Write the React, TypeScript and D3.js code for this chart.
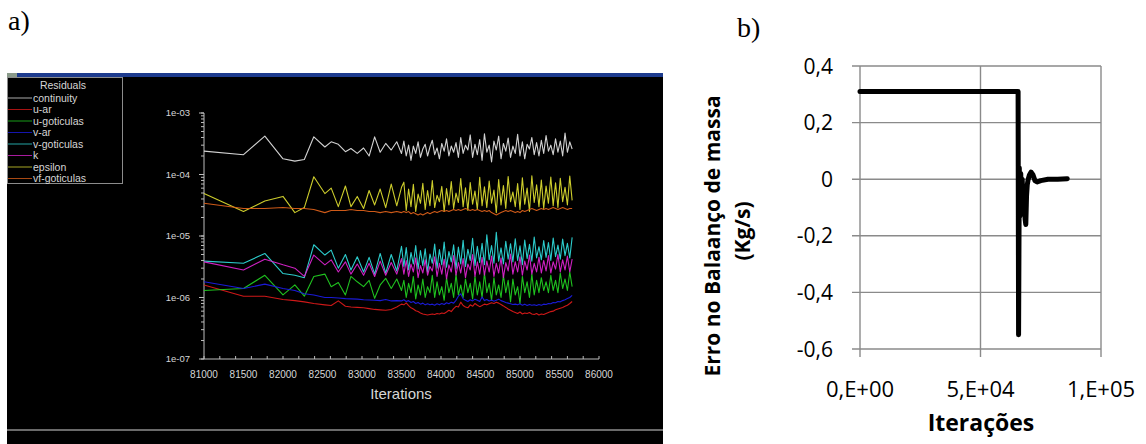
import React from "react";
import * as d3 from "d3";

// ---------- Panel a) : solver residuals ----------
const iterA = [
  81000, 81500, 81770, 82000, 82150, 82270, 82390, 82530, 82610, 82700, 82790, 82860,
  82940, 83020, 83090, 83160, 83230, 83300, 83370, 83440, 83500,
  83530, 83560, 83590, 83620, 83650, 83680, 83710, 83740, 83770, 83800, 83830, 83860,
  83890, 83920, 83950, 83980, 84010, 84040, 84070, 84100, 84130, 84160, 84190, 84220,
  84250, 84280, 84310, 84340, 84370, 84400, 84430, 84460, 84490, 84520, 84550, 84580,
  84610, 84640, 84670, 84700, 84730, 84760, 84790, 84820, 84850, 84880, 84910, 84940,
  84970, 85000, 85030, 85060, 85090, 85120, 85150, 85180, 85210, 85240, 85270, 85300,
  85330, 85360, 85390, 85420, 85450, 85480, 85510, 85540, 85570, 85600, 85630, 85660,
];

// values in units of 1e-4
const continuity = [
  2.4, 2.1, 4.2, 1.8, 1.65, 1.75, 4.1, 2.8, 3.4, 3.1, 2.35, 2.65, 2.2, 2.7, 2.0, 4.1, 2.3, 3.2, 2.5, 3.4, 2.2,
  3.5, 2.0, 3.0, 1.7, 2.9, 2.2, 3.4, 1.9, 2.6, 3.1, 2.0, 2.8,
  3.6, 2.1, 2.7, 1.8, 3.2, 2.4, 3.8, 2.0, 2.9, 2.3, 3.3, 1.9,
  4.0, 2.2, 3.0, 2.5, 4.4, 1.9, 3.1, 2.1, 3.7, 1.7, 4.6, 2.3,
  3.0, 1.6, 3.5, 2.5, 4.2, 1.8, 3.2, 2.4, 3.9, 1.9, 2.9, 2.2,
  4.5, 2.0, 3.4, 1.8, 3.1, 2.6, 4.0, 2.1, 3.3, 2.0, 3.6, 2.2,
  4.3, 2.4, 3.0, 2.1, 3.8, 2.3, 3.5, 2.0, 4.7, 2.3, 3.4, 2.6,
];
// values in units of 1e-7
const uAr = [
  16, 10.5, 10.5, 9.3, 8.9, 8.5, 8.0, 7.6, 7.4, 8.8, 7.2, 7.0, 6.9, 6.8, 6.6, 6.4, 6.3, 6.2, 6.4, 7.0, 7.8,
  7.6, 8.2, 7.4, 6.8, 6.5, 6.1, 5.9, 5.6, 5.4, 5.3, 5.2, 5.3,
  5.4, 5.3, 5.5, 5.4, 5.6, 5.5, 5.8, 6.2, 5.9, 6.6, 7.2, 7.0,
  8.4, 7.4, 7.0, 6.8, 7.6, 7.2, 8.0, 7.5, 7.1, 7.4, 7.8, 7.6,
  7.9, 8.2, 8.0, 8.4, 8.1, 7.7, 7.3, 6.9, 6.5, 6.2, 5.9, 5.7,
  5.5, 5.8, 5.4, 5.6, 5.5, 5.7, 5.4, 5.3, 5.5, 5.2, 5.4, 5.3,
  5.5, 5.7, 5.9, 6.0, 6.3, 6.5, 6.7, 6.9, 7.2, 7.5, 8.0, 8.6,
];
// values in units of 1e-6
const uGoticulas = [
  1.3, 1.4, 2.3, 1.1, 1.6, 1.05, 2.2, 2.4, 1.5, 1.75, 1.1, 2.2, 1.8, 1.5, 1.9, 0.97, 1.6, 2.05, 1.4, 2.0, 1.3,
  1.9, 1.0, 1.7, 1.2, 2.2, 0.95, 1.6, 1.1, 2.0, 1.0, 1.5, 1.2,
  2.3, 1.0, 1.8, 1.1, 1.5, 0.9, 2.1, 1.2, 1.7, 1.0, 2.4, 1.1,
  1.6, 1.0, 2.0, 1.2, 1.7, 0.95, 2.2, 1.1, 1.8, 1.0, 2.5, 1.2,
  1.7, 0.9, 2.1, 1.1, 1.6, 1.0, 2.3, 1.2, 1.9, 0.85, 2.0, 1.1,
  1.5, 0.8, 2.2, 1.2, 1.8, 1.0, 2.4, 1.1, 1.9, 1.2, 2.1, 1.3,
  1.8, 1.2, 2.3, 1.3, 1.9, 1.2, 2.5, 1.4, 2.0, 1.3, 2.6, 1.5,
];
// values in units of 1e-7
const vAr = [
  18, 14, 16.5, 14, 13, 11.5, 11, 10, 10, 9.8, 9.6, 9.5, 9.4, 9.2, 9.1, 9.0, 8.9, 9.3, 8.8, 8.9, 8.8,
  9.2, 8.6, 8.9, 8.3, 8.6, 8.0, 8.3, 7.8, 8.1, 7.6, 7.9, 7.6,
  7.8, 7.5, 7.9, 7.6, 8.0, 7.7, 8.2, 7.9, 8.4, 8.1, 9.0, 10.5,
  11.5, 9.5, 9.0, 8.6, 9.2, 8.8, 9.4, 9.0, 8.6, 10.2, 8.9, 9.3,
  8.8, 9.1, 8.7, 9.0, 9.4, 8.9, 8.6, 8.3, 8.1, 7.9, 7.7, 7.8,
  7.6, 7.9, 7.5, 7.8, 7.4, 7.7, 7.5, 7.6, 7.4, 7.7, 7.5, 7.8,
  7.7, 8.0, 7.9, 8.3, 8.2, 8.6, 8.5, 8.9, 9.2, 9.6, 10.0, 10.8,
];
// values in units of 1e-6
const vGoticulas = [
  3.9, 3.6, 5.2, 2.45, 2.3, 2.1, 7.2, 4.9, 5.9, 3.0, 5.0, 2.8, 4.6, 2.6, 4.5, 2.4, 5.2, 2.5, 5.0, 2.7, 6.8,
  3.2, 6.5, 2.8, 5.4, 3.5, 7.0, 2.9, 5.8, 3.3, 6.2, 2.6, 5.1,
  3.6, 7.4, 3.0, 6.0, 3.4, 8.0, 3.1, 5.6, 3.8, 7.2, 2.9, 6.6,
  3.5, 8.5, 3.2, 6.1, 4.0, 9.2, 3.3, 6.8, 3.7, 7.6, 3.4, 10.5,
  4.1, 7.0, 3.6, 11.5, 3.9, 6.4, 3.5, 8.2, 4.2, 7.5, 3.8, 9.0,
  4.0, 6.9, 3.4, 8.6, 4.3, 7.3, 3.9, 9.6, 4.4, 6.7, 4.1, 8.4,
  4.5, 7.8, 4.0, 9.3, 4.6, 7.1, 4.2, 8.9, 4.8, 7.6, 4.4, 9.5,
];
// values in units of 1e-6
const kRes = [
  3.8, 2.8, 4.2, 3.4, 3.0, 2.2, 4.9, 3.4, 4.1, 2.6, 3.8, 2.4, 3.5, 2.3, 3.6, 2.2, 3.9, 2.3, 3.7, 2.4, 4.3,
  2.4, 4.0, 2.2, 3.5, 2.6, 4.4, 2.1, 3.3, 2.5, 4.1, 2.3, 3.2,
  2.7, 4.6, 2.2, 3.6, 2.4, 4.2, 2.0, 3.4, 2.6, 4.8, 2.3, 3.7,
  2.5, 4.3, 2.1, 3.5, 2.8, 5.0, 2.2, 3.8, 2.4, 4.5, 2.3, 3.9,
  2.6, 4.7, 2.2, 3.6, 2.5, 4.4, 2.1, 3.7, 2.7, 5.1, 2.4, 3.8,
  2.6, 4.6, 2.3, 3.9, 2.8, 4.9, 2.4, 3.6, 2.6, 4.5, 2.5, 4.0,
  2.7, 4.8, 2.5, 3.8, 2.9, 5.0, 2.6, 4.1, 2.8, 4.7, 2.6, 4.2,
];
// values in units of 1e-5
const epsilon = [
  4.9, 2.5, 3.7, 4.4, 2.4, 2.9, 9.2, 4.9, 6.0, 3.0, 6.5, 3.0, 4.4, 2.8, 5.5, 3.2, 5.8, 2.9, 7.0, 3.1, 6.2,
  7.5, 2.6, 5.8, 3.0, 6.9, 2.5, 4.8, 3.4, 7.2, 2.7, 5.5, 3.1,
  8.0, 2.9, 4.6, 3.6, 6.4, 2.5, 5.9, 3.2, 7.7, 2.8, 5.0, 3.5,
  8.6, 3.0, 6.1, 2.6, 7.4, 3.3, 5.4, 2.7, 9.0, 3.1, 6.3, 2.9,
  7.8, 3.4, 5.6, 2.4, 8.3, 3.2, 6.6, 2.8, 9.3, 3.6, 5.2, 3.0,
  7.1, 2.7, 8.8, 3.3, 6.0, 2.5, 9.5, 3.5, 6.8, 3.0, 8.1, 2.8,
  6.5, 3.4, 9.1, 3.1, 7.3, 2.9, 8.7, 3.6, 6.2, 3.2, 9.4, 3.8,
];
// values in units of 1e-5
const vfGoticulas = [
  3.4, 2.8, 2.8, 2.9, 2.8, 2.8, 2.7, 2.4, 2.6, 2.6, 2.6, 2.7, 2.6, 2.6, 2.5, 2.5, 2.4, 2.5, 2.4, 2.5, 2.4,
  2.5, 2.4, 2.5, 2.3, 2.4, 2.3, 2.2, 2.3, 2.2, 2.3, 2.4, 2.3,
  2.4, 2.5, 2.4, 2.5, 2.6, 2.5, 2.6, 2.5, 2.6, 2.7, 2.6, 2.7,
  2.6, 2.7, 2.8, 2.7, 2.6, 2.7, 2.6, 2.7, 2.6, 2.5, 2.6, 2.5,
  2.6, 2.4, 2.3, 2.2, 2.3, 2.4, 2.5, 2.6, 2.5, 2.6, 2.5, 2.4,
  2.5, 2.4, 2.6, 2.5, 2.6, 2.7, 2.8, 2.7, 2.6, 2.7, 2.8, 2.7,
  2.8, 2.7, 2.8, 2.9, 2.8, 2.7, 2.8, 2.9, 2.8, 2.7, 2.8, 2.8,
];

const residualNames = ["continuity", "u-ar", "u-goticulas", "v-ar", "v-goticulas", "k", "epsilon", "vf-goticulas"];
const residualValues = [continuity, uAr, uGoticulas, vAr, vGoticulas, kRes, epsilon, vfGoticulas];
const residualUnits = [1e-4, 1e-7, 1e-6, 1e-7, 1e-6, 1e-6, 1e-5, 1e-5];
const residualColors = ["#e4e4e4", "#e01a1a", "#22d022", "#1c1ce8", "#30dcdc", "#e024d2", "#dede30", "#e0621a"];

const xTicksA = [81000, 81500, 82000, 82500, 83000, 83500, 84000, 84500, 85000, 85500, 86000];
const yTicksA = [1e-3, 1e-4, 1e-5, 1e-6, 1e-7];
const yTickLabelsA = ["1e-03", "1e-04", "1e-05", "1e-06", "1e-07"];

// ---------- Panel b) : mass balance error ----------
const massIter = [0, 65600, 65800, 66100, 66400, 66700, 67000, 67300, 67600, 67900, 68200, 68500, 68800,
  69100, 69400, 69800, 70300, 71000, 71800, 72600, 73500, 75000, 78000, 82000, 86000];
const massErr = [0.31, 0.31, -0.55, 0.04, -0.13, 0.02, -0.10, 0.0, -0.08, -0.03, -0.09, -0.14, -0.16,
  -0.06, -0.02, 0.0, 0.015, 0.025, 0.015, -0.005, -0.01, -0.005, 0.0, 0.0, 0.002];
const yTicksB = [0.4, 0.2, 0, -0.2, -0.4, -0.6];
const yTickLabelsB = ["0,4", "0,2", "0", "-0,2", "-0,4", "-0,6"];
const xTicksB = [0, 50000, 100000];
const xTickLabelsB = ["0,E+00", "5,E+04", "1,E+05"];

export default function App() {
  // panel a scales
  const xA = d3.scaleLinear().domain([81000, 86000]).range([204, 599]);
  const yA = d3.scaleLog().domain([1e-7, 1e-3]).range([359, 113]);
  const minorY = yA.ticks();
  const minorX = xA.ticks(20);

  // panel b scales
  const xB = d3.scaleLinear().domain([0, 100000]).range([860, 1101]);
  const yB = d3.scaleLinear().domain([-0.6, 0.4]).range([349, 66]);

  const lineB = d3
    .line<number>()
    .x((_, i) => xB(massIter[i]))
    .y((v) => yB(v));

  const fontA = "'Liberation Sans', Arial, sans-serif";
  const fontB = "'Open Sans', 'Noto Sans', sans-serif";
  const txtA = "#d6d6d6";

  return (
    <svg
      width={1146}
      height={444}
      style={{ position: "absolute", left: 0, top: 0, display: "block", background: "#fff" }}
    >
      {/* ===== Panel a ===== */}
      <text x={8} y={30} fontFamily="'Liberation Serif', 'Times New Roman', serif" fontSize={28} fill="#000">
        a)
      </text>
      <rect x={7} y={73} width={656} height={371} fill="#000" />
      <rect x={7} y={73} width={656} height={4} fill="#1d3b8e" />
      <rect x={7} y={73} width={10} height={4} fill="#8a9a8a" />
      <rect x={7} y={429} width={656} height={2} fill="#6a6a6a" />

      {/* legend */}
      <rect x={7.5} y={77.5} width={115} height={106} fill="none" stroke="#8c8c8c" strokeWidth={1} />
      <text x={63} y={89} textAnchor="middle" fontFamily={fontA} fontSize={10.5} fill={txtA}>
        Residuals
      </text>
      {residualNames.map((n, i) => {
        const cy = 98 + i * 11.5;
        return (
          <g key={n}>
            <line x1={8} x2={32} y1={cy} y2={cy} stroke={residualColors[i]} strokeWidth={1} opacity={0.75} />
            <text x={33} y={cy + 3.7} fontFamily={fontA} fontSize={10.5} fill={txtA}>
              {n}
            </text>
          </g>
        );
      })}

      {/* axes a */}
      <line x1={204} x2={204} y1={113} y2={359} stroke="#bdbdbd" strokeWidth={1} />
      <line x1={204} x2={599} y1={359} y2={359} stroke="#bdbdbd" strokeWidth={1} />
      {minorY.map((t, i) => (
        <line key={"my" + i} x1={201} x2={204} y1={yA(t)} y2={yA(t)} stroke="#bdbdbd" strokeWidth={1} />
      ))}
      {yTicksA.map((t, i) => (
        <g key={"ya" + i}>
          <line x1={199} x2={204} y1={yA(t)} y2={yA(t)} stroke="#bdbdbd" strokeWidth={1} />
          <text x={190} y={yA(t) + 3.3} textAnchor="end" fontFamily={fontA} fontSize={9.5} fill={txtA}>
            {yTickLabelsA[i]}
          </text>
        </g>
      ))}
      {minorX.map((t, i) => (
        <line key={"mx" + i} x1={xA(t)} x2={xA(t)} y1={356} y2={359} stroke="#bdbdbd" strokeWidth={1} />
      ))}
      {xTicksA.map((t) => (
        <text key={"xa" + t} x={xA(t)} y={378} textAnchor="middle" fontFamily={fontA} fontSize={10} fill={txtA}>
          {t}
        </text>
      ))}
      <text x={401} y={399} textAnchor="middle" fontFamily={fontA} fontSize={15} fill={txtA}>
        Iterations
      </text>

      {/* residual lines */}
      {residualValues.map((vals, si) => {
        const unit = residualUnits[si];
        const gen = d3
          .line<number>()
          .x((_, i) => xA(iterA[i]))
          .y((v) => yA(v * unit));
        return (
          <path
            key={"res" + si}
            d={gen(vals) || ""}
            fill="none"
            stroke={residualColors[si]}
            strokeWidth={1.1}
            strokeLinejoin="round"
            opacity={0.92}
          />
        );
      })}

      {/* ===== Panel b ===== */}
      <text x={737} y={37} fontFamily="'Liberation Serif', 'Times New Roman', serif" fontSize={28} fill="#000">
        b)
      </text>
      {yTicksB.map((t, i) => (
        <g key={"yb" + i}>
          <line x1={852} x2={1101} y1={yB(t)} y2={yB(t)} stroke="#8a8a8a" strokeWidth={1.4} />
          <text
            x={833}
            y={yB(t)}
            dy="0.36em"
            textAnchor="end"
            fontFamily={fontB}
            fontSize={21}
            fill="#000"
          >
            {yTickLabelsB[i]}
          </text>
        </g>
      ))}
      {xTicksB.map((t, i) => (
        <g key={"xb" + i}>
          <line x1={xB(t)} x2={xB(t)} y1={66} y2={357} stroke="#8a8a8a" strokeWidth={1.4} />
          <text x={xB(t)} y={397} textAnchor="middle" fontFamily={fontB} fontSize={22} fill="#000">
            {xTickLabelsB[i]}
          </text>
        </g>
      ))}
      <path
        d={lineB(massErr) || ""}
        fill="none"
        stroke="#000"
        strokeWidth={5}
        strokeLinejoin="round"
        strokeLinecap="round"
      />
      <text x={981} y={431} textAnchor="middle" fontFamily={fontB} fontWeight="bold" fontSize={23} fill="#000">
        Iterações
      </text>
      <text
        transform="translate(720,236) rotate(-90)"
        textAnchor="middle"
        fontFamily={fontB}
        fontWeight="bold"
        fontSize={21}
        fill="#000"
      >
        Erro no Balaanço de massa
      </text>
      <text
        transform="translate(750,231) rotate(-90)"
        textAnchor="middle"
        fontFamily={fontB}
        fontWeight="bold"
        fontSize={21}
        fill="#000"
      >
        (Kg/s)
      </text>
    </svg>
  );
}
